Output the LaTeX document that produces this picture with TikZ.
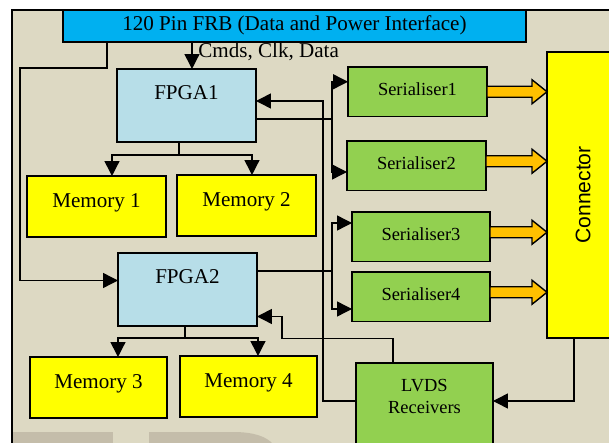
\documentclass[tikz,border=0pt]{standalone}
\usepackage{fontspec}
\setmainfont{Liberation Serif}
\setsansfont{Liberation Sans}
\usepackage{tikz}
\usetikzlibrary{
    arrows.meta,
    calc
}

\definecolor{panelbg}{HTML}{DDD9C3}
\definecolor{frbblue}{HTML}{00B0F0}
\definecolor{fpgablue}{HTML}{B7DEE8}
\definecolor{memyellow}{HTML}{FFFF00}
\definecolor{sergreen}{HTML}{92D050}
\definecolor{linkorange}{HTML}{FFC000}
\definecolor{markgrey}{HTML}{C4BDAA}

\begin{document}
\begin{tikzpicture}[x=0.02cm, y=-0.02cm, font=\fontsize{12}{14}\selectfont,
    box/.style={draw, line width=0.9pt, inner sep=0pt, outer sep=0pt, anchor=north west},
    fpgabox/.style={box, fill=fpgablue, minimum width=2.78cm, text height=0.62cm, text depth=0.84cm},
    membox/.style={box, fill=memyellow, minimum width=2.78cm, text height=0.64cm, text depth=0.58cm},
    serbox/.style={box, fill=sergreen, minimum width=2.76cm, text height=0.57cm, text depth=0.42cm, font=\fontsize{10.5}{12}\selectfont},
    wire/.style={line width=0.8pt},
    arr/.style={wire, -{Triangle[length=0.3cm, width=0.3cm]}},
    fatarrow/.style={draw, fill=linkorange, line width=0.8pt,
        to path={($(\tikztostart)+(0,-5.5)$) -- ($(\tikztotarget)+(-15,-5.5)$) -- ($(\tikztotarget)+(-15,-12)$)
            -- (\tikztotarget) -- ($(\tikztotarget)+(-15,12)$) -- ($(\tikztotarget)+(-15,5.5)$) -- ($(\tikztostart)+(0,5.5)$) -- cycle}}
]
            \useasboundingbox (0,0) rectangle (609,443);
            
            % panel
            \fill[panelbg] (12,10) rectangle (609,443);
            \fill[markgrey] (12,432) rectangle (113,443);
            \fill[markgrey] (149,443) -- (149,432) -- (233,432) .. controls (255,432) and (266,437) .. (272,443) -- cycle;
            \draw[wire] (12,443) -- (12,10) -- (609,10);
            
            \node[box, fill=frbblue, minimum width=9.26cm, text height=0.42cm, text depth=0.22cm] (frb) at (63,10) {120 Pin FRB (Data and Power Interface)};
            
            \node[fpgabox] (fpga1) at (117,69) {FPGA1};
            \node[fpgabox] (fpga2) at (118,253) {FPGA2};
            
            \node[membox] (mem1) at (27,176) {Memory 1};
            \node[membox] (mem2) at (177,175) {Memory 2};
            \node[membox, minimum width=2.74cm] (mem3) at (30,357) {Memory 3};
            \node[membox, minimum width=2.74cm] (mem4) at (180,356) {Memory 4};
            
            \node[serbox, minimum width=2.78cm] (ser1) at (348,67) {Serialiser1};
            \node[serbox, minimum width=2.78cm] (ser2) at (347,141) {Serialiser2};
            \node[serbox] (ser3) at (352,212) {Serialiser3};
            \node[serbox] (ser4) at (352,272) {Serialiser4};
            
            \node[box, fill=sergreen, minimum width=2.74cm, text height=0.58cm, text depth=1.8cm, font=\fontsize{10.5}{12}\selectfont] (lvds) at (356,363) {\begin{tabular}[t]{@{}c@{}}LVDS\\Receivers\end{tabular}};
            
            \node[box, fill=memyellow, minimum width=1.44cm, minimum height=5.72cm] (conn) at (547,52) {\rotatebox{90}{\sffamily Connector}};
            
            % FRB to the FPGAs
            \draw[arr] ($(fpga1.north)+(5.5,-27)$) -- ($(fpga1.north)+(5.5,0)$);
            \node[anchor=base west, inner sep=0pt] (cmds) at (198,57) {Cmds, Clk, Data};
            \draw[arr] ($(frb.south west)+(44,0)$) -- ++(0,26) -- ++(-87,0) |- ([yshift=0.18cm]fpga2.west);
            
            % FPGAs to memories
            \draw[wire] ([xshift=-0.15cm]fpga1.south) -- ++(0,13) coordinate (split1);
            \draw[arr] (split1) -| ([xshift=0.31cm]mem1.north);
            \draw[arr] (split1) -| ([xshift=0.11cm]mem2.north);
            \draw[wire] ([xshift=-0.05cm]fpga2.south) -- ++(0,12) coordinate (split2);
            \draw[arr] (split2) -| ([xshift=0.39cm]mem3.north);
            \draw[arr] (split2) -| ([xshift=0.19cm]mem4.north);
            
            % FPGAs to serialisers
            \draw[wire] ([yshift=-0.27cm]fpga1.east) -- ++(76,0) coordinate (fork1);
            \draw[arr] (fork1) |- ([yshift=0.2cm]ser1.west);
            \draw[arr] (fork1) |- ([yshift=-0.125cm]ser2.west);
            \draw[wire] ([yshift=0.37cm]fpga2.east) -- ++(75,0) coordinate (fork2);
            \draw[arr] (fork2) |- ([yshift=0.275cm]ser3.west);
            \draw[arr] (fork2) |- ([yshift=-0.245cm]ser4.west);
            
            % serialisers to connector
            \draw[fatarrow] (ser1.east) to (ser1.east -| conn.west);
            \draw[fatarrow] ($(ser2.east)+(0,-4.5)$) to ($(ser2.east -| conn.west)+(0,-4.5)$);
            \draw[fatarrow] ($(ser3.east)+(0,-4.5)$) to ($(ser3.east -| conn.west)+(0,-4.5)$);
            \draw[fatarrow] ($(ser4.east)+(0,-4.5)$) to ($(ser4.east -| conn.west)+(0,-4.5)$);
            
            % receivers
            \draw[arr] ($(conn.south west)+(27,0)$) |- ($(lvds.north east)+(0,38)$);
            \draw[arr] ($(lvds.north west)+(0,38)$) -- ++(-33,0) |- ([yshift=0.09cm]fpga1.east);
            \draw[arr] ([xshift=-0.63cm]lvds.north) |- ($(fpga2.east)+(25,49)$) |- ([yshift=-0.54cm]fpga2.east);
\end{tikzpicture}
\end{document}
